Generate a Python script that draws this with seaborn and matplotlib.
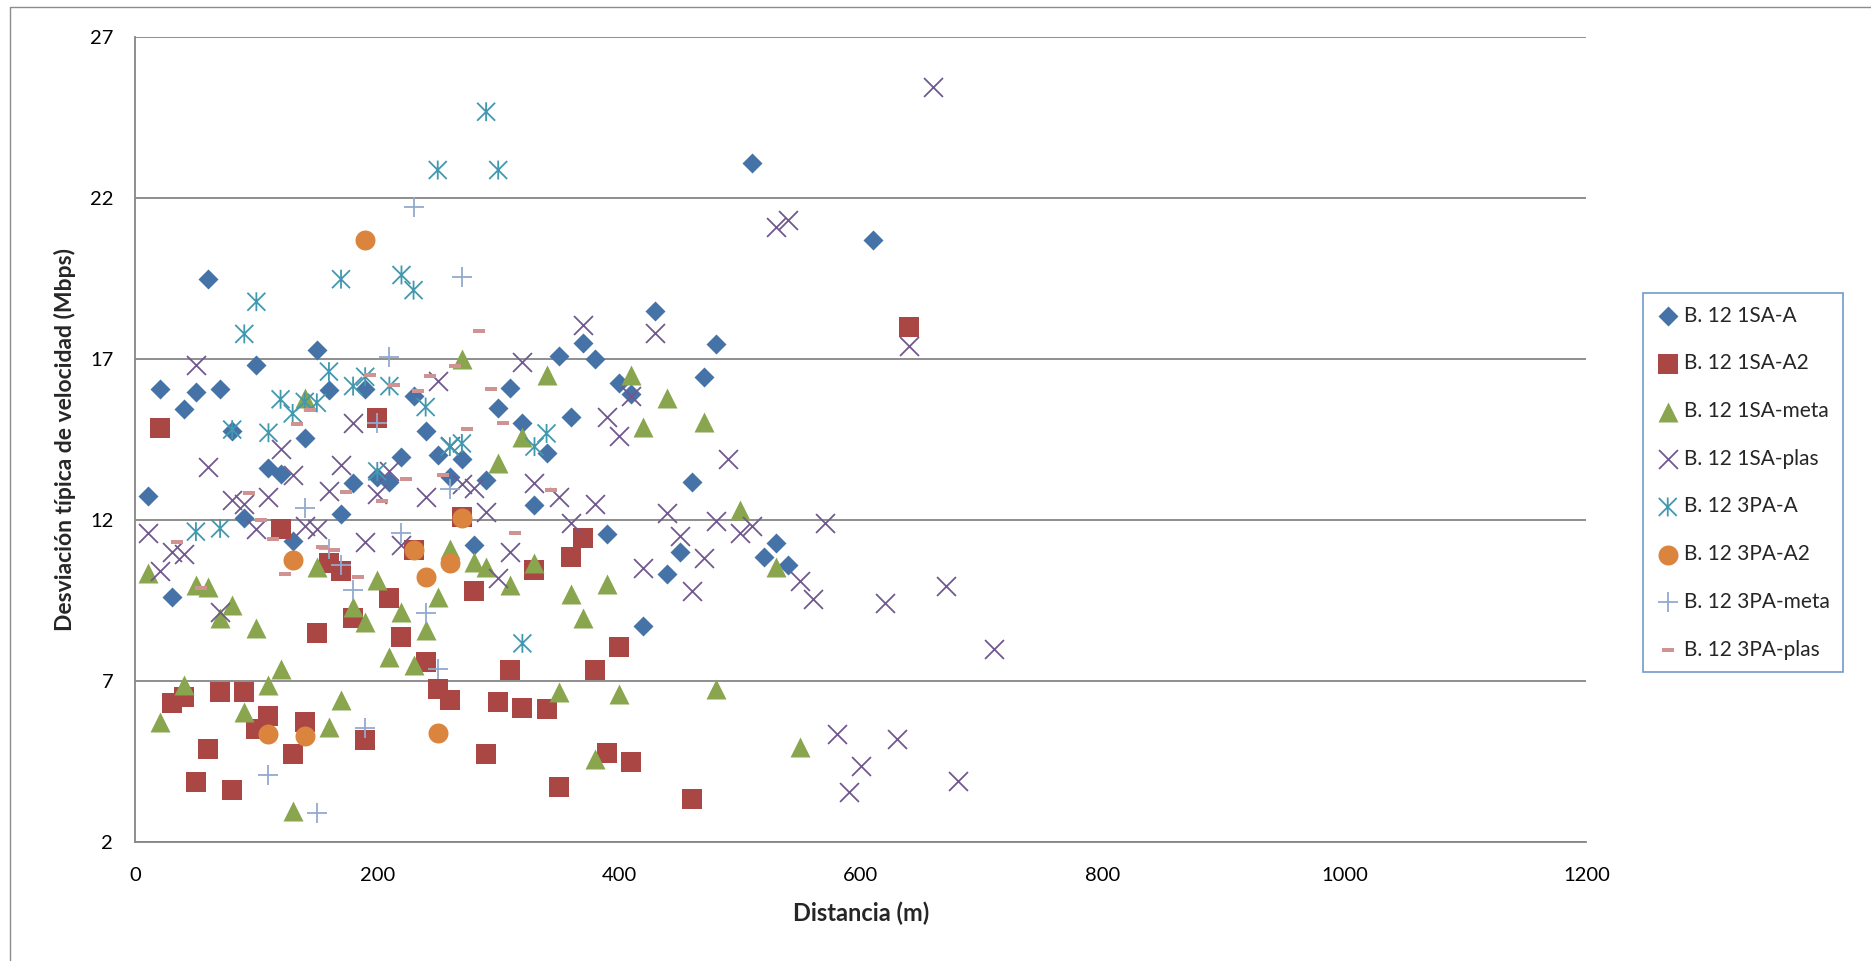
import numpy as np
import pandas as pd
import seaborn as sns
import matplotlib.pyplot as plt
from matplotlib.path import Path
from matplotlib.markers import MarkerStyle
from matplotlib.lines import Line2D

# --- data (distance in m, std dev in Mbps) ---
sa_a_x = [10, 20, 30, 40, 50, 60, 70, 80, 90, 100, 110, 120, 130, 140, 150, 160, 170, 180,
          190, 200, 210, 220, 230, 240, 250, 260, 270, 280, 290, 300, 310, 320, 330, 340,
          350, 360, 370, 380, 390, 400, 410, 420, 430, 440, 450, 460, 470, 480, 510, 520,
          530, 540, 610]
sa_a_y = [12.75, 16.05, 9.6, 15.45, 15.98, 19.48, 16.05, 14.76, 12.04, 16.8, 13.6, 13.42,
          11.35, 14.53, 17.27, 16.03, 12.18, 13.13, 16.05, 13.34, 13.18, 13.96, 15.84, 14.76,
          14.0, 13.34, 13.88, 11.2, 13.23, 15.46, 16.08, 15.0, 12.46, 14.06, 17.1, 15.18,
          17.5, 16.98, 11.56, 16.25, 15.9, 8.7, 18.49, 10.3, 11.0, 13.18, 16.44, 17.45,
          23.09, 10.85, 11.29, 10.6, 20.69]

sa_a2_x = [20, 30, 40, 50, 60, 70, 80, 90, 100, 110, 120, 130, 140, 150, 160, 170, 180, 190,
           200, 210, 220, 230, 240, 250, 260, 270, 280, 290, 300, 310, 320, 330, 340, 350,
           360, 370, 380, 390, 400, 410, 460, 640]
sa_a2_y = [14.84, 6.32, 6.48, 3.86, 4.87, 6.66, 3.6, 6.66, 5.49, 5.9, 11.7, 4.72, 5.73, 8.47,
           10.65, 10.42, 8.94, 5.16, 15.15, 9.56, 8.37, 11.06, 7.59, 6.75, 6.4, 12.07, 9.8,
           4.72, 6.35, 7.33, 6.16, 10.44, 6.11, 3.69, 10.83, 11.42, 7.33, 4.75, 8.06, 4.48,
           3.32, 18.0]

sa_meta_x = [10, 20, 40, 50, 60, 70, 80, 90, 100, 110, 120, 130, 140, 150, 160, 170, 180, 190,
             200, 210, 220, 230, 240, 250, 260, 270, 280, 290, 300, 310, 320, 330, 340, 350,
             360, 370, 380, 390, 400, 410, 420, 440, 470, 480, 500, 530, 550]
sa_meta_y = [10.35, 5.73, 6.87, 9.97, 9.92, 8.94, 9.35, 6.04, 8.63, 6.87, 7.36, 2.96, 15.77,
             10.54, 5.55, 6.4, 9.3, 8.83, 10.13, 7.75, 9.14, 7.49, 8.57, 9.6, 11.1, 16.98,
             10.7, 10.54, 13.75, 9.97, 14.58, 10.65, 16.5, 6.64, 9.69, 8.94, 4.57, 10.0, 6.6,
             16.5, 14.89, 15.77, 15.04, 6.73, 12.3, 10.54, 4.95]

sa_plas_x = [10, 20, 30, 40, 50, 60, 70, 80, 90, 100, 110, 120, 130, 140, 150, 160, 170, 180,
             190, 200, 210, 220, 240, 250, 260, 270, 280, 290, 300, 310, 320, 330, 350, 360,
             370, 380, 390, 400, 410, 420, 430, 440, 450, 460, 470, 480, 490, 500, 510, 530,
             540, 550, 560, 570, 580, 590, 600, 620, 630, 640, 660, 670, 680, 710]
sa_plas_y = [11.6, 10.4, 11.0, 10.95, 16.8, 13.65, 9.15, 12.6, 12.5, 11.7, 12.7, 14.2, 13.4,
             11.8, 11.7, 12.9, 13.7, 15.0, 11.3, 12.8, 13.5, 11.2, 12.7, 16.3, 14.3, 13.1,
             13.0, 12.25, 10.2, 11.0, 16.9, 13.15, 12.7, 11.9, 18.05, 12.5, 15.2, 14.6, 15.85,
             10.5, 17.8, 12.2, 11.5, 9.8, 10.8, 11.95, 13.9, 11.6, 11.8, 21.1, 21.3, 10.1,
             9.55, 11.9, 5.35, 3.55, 4.35, 9.4, 5.2, 17.4, 25.45, 9.95, 3.9, 8.0]

pa_a_x = [50, 70, 80, 90, 100, 110, 120, 130, 140, 150, 160, 170, 180, 190, 200, 210, 220,
          230, 240, 250, 260, 270, 290, 300, 320, 330, 340]
pa_a_y = [11.63, 11.73, 14.8, 17.77, 18.77, 14.7, 15.74, 15.3, 15.66, 15.63, 16.6, 19.47,
          16.15, 16.44, 13.5, 16.15, 19.6, 19.13, 15.5, 22.86, 14.27, 14.37, 24.67, 22.86,
          8.16, 14.27, 14.68]

pa_a2_x = [110, 130, 140, 190, 230, 240, 250, 260, 270]
pa_a2_y = [5.35, 10.75, 5.28, 20.69, 11.06, 10.23, 5.37, 10.65, 12.04]

pa_meta_x = [110, 140, 150, 160, 170, 180, 190, 200, 210, 220, 230, 240, 250, 260, 270]
pa_meta_y = [4.07, 12.35, 2.88, 11.1, 10.6, 9.82, 5.52, 15.0, 17.04, 11.58, 21.72, 9.1, 7.35,
             12.94, 19.55]

pa_plas_x = [34, 54, 94, 104, 114, 124, 134, 144, 154, 164, 174, 184, 194, 204, 214, 224, 234,
             244, 254, 264, 274, 284, 294, 304, 314, 344]
pa_plas_y = [11.3, 9.87, 12.84, 12.0, 11.4, 10.3, 14.97, 15.4, 11.16, 11.06, 12.85, 10.23,
             16.5, 12.58, 16.18, 13.26, 16.0, 16.46, 13.4, 16.77, 14.82, 17.87, 16.05, 15.0,
             11.58, 12.92]

labels = ['B. 12 1SA-A', 'B. 12 1SA-A2', 'B. 12 1SA-meta', 'B. 12 1SA-plas',
          'B. 12 3PA-A', 'B. 12 3PA-A2', 'B. 12 3PA-meta', 'B. 12 3PA-plas']
colors = ['#4572A7', '#AA4643', '#89A54E', '#71588F',
          '#4198AF', '#DB843D', '#93A9CF', '#D19392']

# custom markers: Excel-like asterisk and short dash
asterisk = Path([(0, -1), (0, 1), (-0.95, -0.95), (0.95, 0.95), (-0.95, 0.95), (0.95, -0.95)],
                [Path.MOVETO, Path.LINETO] * 3)
dash = Path([(-1, -0.42), (1, -0.42), (1, 0.42), (-1, 0.42), (-1, -0.42)],
            [Path.MOVETO, Path.LINETO, Path.LINETO, Path.LINETO, Path.CLOSEPOLY])

series = [
    (sa_a_x, sa_a_y, 'D', 104, True),
    (sa_a2_x, sa_a2_y, 's', 200, True),
    (sa_meta_x, sa_meta_y, '^', 207, True),
    (sa_plas_x, sa_plas_y, 'x', 185, False),
    (pa_a_x, pa_a_y, MarkerStyle(asterisk, fillstyle='none'), 185, False),
    (pa_a2_x, pa_a2_y, 'o', 207, True),
    (pa_meta_x, pa_meta_y, '+', 190, False),
    (pa_plas_x, pa_plas_y, dash, 70, True),
]

sns.set_theme(style='white')
plt.rcParams['font.family'] = ['Lato', 'DejaVu Sans']

fig = plt.figure(figsize=(18.71, 9.61), dpi=100)
ax = fig.add_axes([0.0724, 0.1241, 0.7755, 0.8377])

for (xs, ys, mk, size, filled), lab, col in zip(series, labels, colors):
    if filled:
        sns.scatterplot(x=xs, y=ys, ax=ax, marker=mk, s=size, color=col,
                        edgecolor=col, linewidth=0, label=lab, zorder=3)
    else:
        sns.scatterplot(x=xs, y=ys, ax=ax, marker=mk, s=size, color=col,
                        linewidth=1.3, label=lab, zorder=3)

grid_col = '#868686'
ax.set_xlim(0, 1200)
ax.set_ylim(2, 27)
ax.set_xticks(range(0, 1201, 200))
ax.set_yticks(range(2, 28, 5))
ax.set_axisbelow(True)
ax.yaxis.grid(True, color=grid_col, linewidth=1.3)
ax.xaxis.grid(False)
for side in ['top', 'right']:
    ax.spines[side].set_visible(False)
for side in ['left', 'bottom']:
    ax.spines[side].set_color(grid_col)
    ax.spines[side].set_linewidth(1.3)
ax.tick_params(axis='both', direction='out', length=5, width=1, color=grid_col,
               labelsize=14.5, labelcolor='black')
ax.tick_params(axis='x', pad=13)
ax.tick_params(axis='y', pad=11)

ax.set_xlabel('Distancia (m)', fontsize=17, fontweight='bold', labelpad=13)
ax.set_ylabel('Desviación típica de velocidad (Mbps)', fontsize=16.5, fontweight='bold',
              labelpad=10)

leg = ax.legend(loc='upper left', bbox_to_anchor=(0.878, 0.695), bbox_transform=fig.transFigure,
                frameon=True, fancybox=False, fontsize=15, labelspacing=1.33,
                handletextpad=0.2, handlelength=1.2, borderpad=0.6, borderaxespad=0,
                scatterpoints=1)
leg.get_frame().set_edgecolor('#4F81BD')
leg.get_frame().set_linewidth(1.2)

# chart-area border (left and top edges visible in the reference)
bx, by = 10 / 1871, 1 - 7 / 961
fig.add_artist(Line2D([bx, bx], [0, by], transform=fig.transFigure, color='#8C8C8C', lw=1))
fig.add_artist(Line2D([bx, 1], [by, by], transform=fig.transFigure, color='#8C8C8C', lw=1))

fig.savefig('out.png', dpi=100)
